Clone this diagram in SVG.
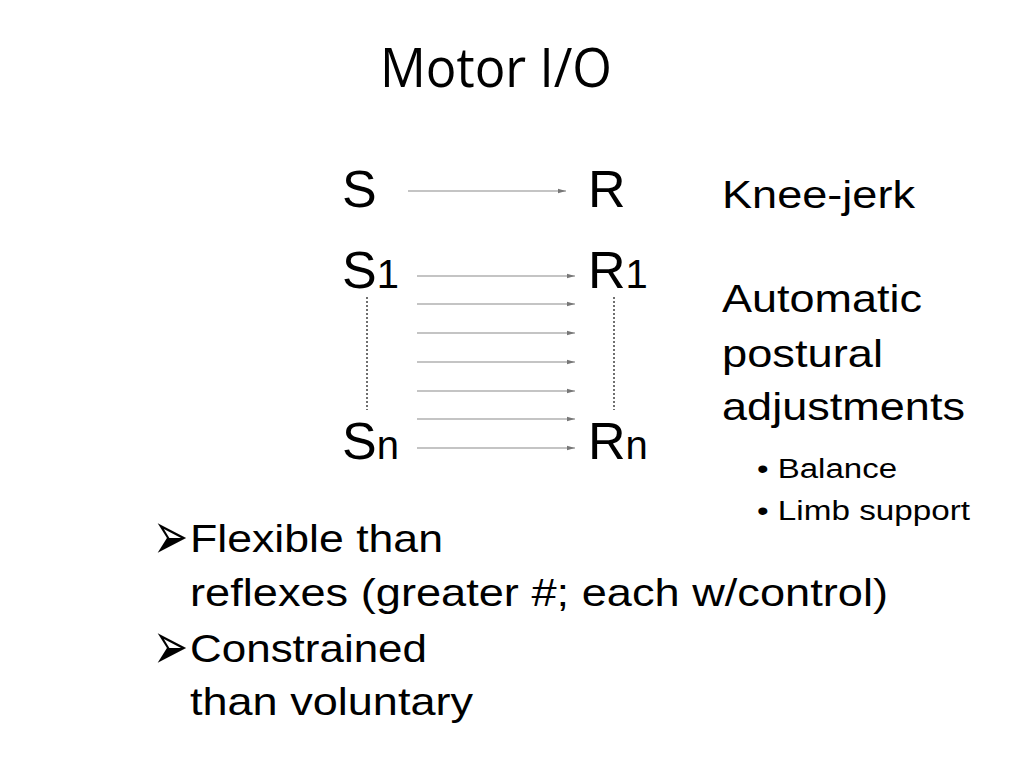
<svg xmlns="http://www.w3.org/2000/svg" width="1024" height="768" viewBox="0 0 1024 768">
<style>
text{font-family:"Liberation Sans",Arial,sans-serif;fill:#000}
.t{font-family:"Open Sans","Noto Sans",sans-serif;font-size:54px}
.big{font-size:52px}
.sub{font-size:40px}
.r{font-size:39px}
.s{font-size:27px}
.b{font-size:39px}
.bl{font-family:"DejaVu Sans",sans-serif;font-size:42px}
.ar{stroke:#8a8a8a;stroke-width:1.2;fill:none;marker-end:url(#ah)}
.dot{stroke:#333;stroke-width:1.4;stroke-dasharray:2 2;fill:none}
</style>
<defs>
<marker id="ah" viewBox="0 0 8 6" refX="8" refY="3" markerWidth="8" markerHeight="6" markerUnits="userSpaceOnUse" orient="auto">
<path d="M0,0.8 L8,3 L0,5.2 Z" fill="#777"/>
</marker>
</defs>
<rect width="1024" height="768" fill="#fff"/>
<text id="title" class="t" x="380" y="87" textLength="232" lengthAdjust="spacingAndGlyphs">Motor I/O</text>
<g id="S"><text class="big" x="342" y="207">S</text></g>
<g id="R"><text class="big" x="588" y="207">R</text></g>
<g id="S1"><text class="big" x="342" y="288">S<tspan class="sub">1</tspan></text></g>
<g id="R1"><text class="big" x="588" y="288">R<tspan class="sub">1</tspan></text></g>
<g id="Sn"><text class="big" x="342" y="459">S<tspan class="sub">n</tspan></text></g>
<g id="Rn"><text class="big" x="588" y="459">R<tspan class="sub">n</tspan></text></g>
<g id="connectors">
<line class="ar" x1="408" y1="191" x2="566" y2="191"/>
<line class="ar" x1="417" y1="276" x2="575" y2="276"/>
<line class="ar" x1="417" y1="304" x2="575" y2="304"/>
<line class="ar" x1="417" y1="333" x2="575" y2="333"/>
<line class="ar" x1="417" y1="362" x2="575" y2="362"/>
<line class="ar" x1="417" y1="391" x2="575" y2="391"/>
<line class="ar" x1="417" y1="419" x2="575" y2="419"/>
<line class="ar" x1="417" y1="448" x2="575" y2="448"/>
<line class="dot" x1="367" y1="297" x2="367" y2="410"/>
<line class="dot" x1="614" y1="297" x2="614" y2="410"/>
</g>
<g id="labels">
<text class="r" x="722" y="208" textLength="193" lengthAdjust="spacingAndGlyphs">Knee-jerk</text>
<text class="r" x="722" y="312" textLength="200" lengthAdjust="spacingAndGlyphs">Automatic</text>
<text class="r" x="722" y="367" textLength="161" lengthAdjust="spacingAndGlyphs">postural</text>
<text class="r" x="722" y="420" textLength="243" lengthAdjust="spacingAndGlyphs">adjustments</text>
<text class="s" x="757" y="478" textLength="140" lengthAdjust="spacingAndGlyphs">• Balance</text>
<text class="s" x="757" y="520" textLength="213" lengthAdjust="spacingAndGlyphs">• Limb support</text>
</g>
<g id="bullets">
<text class="bl" transform="translate(153,559) scale(1,1.6)">➢</text>
<text class="b" x="190" y="552" textLength="253" lengthAdjust="spacingAndGlyphs">Flexible than</text>
<text class="b" x="190" y="606" textLength="698" lengthAdjust="spacingAndGlyphs">reflexes (greater #; each w/control)</text>
<text class="bl" transform="translate(153,669) scale(1,1.6)">➢</text>
<text class="b" x="190" y="662" textLength="237" lengthAdjust="spacingAndGlyphs">Constrained</text>
<text class="b" x="190" y="715" textLength="283" lengthAdjust="spacingAndGlyphs">than voluntary</text>
</g>
</svg>
